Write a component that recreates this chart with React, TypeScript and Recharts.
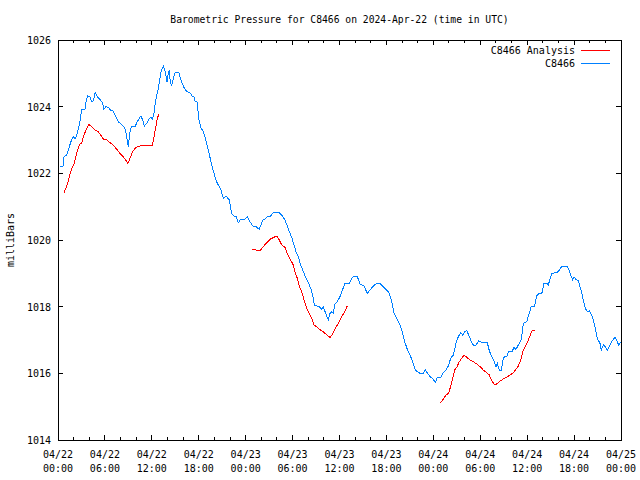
import React from "react";
import { LineChart, Line, XAxis, YAxis, ReferenceArea, Legend } from "recharts";

const WIDTH = 640;
const HEIGHT = 480;
const MARGIN = { top: 40, right: 19, bottom: 0, left: 0 };
const Y_AXIS_W = 58;
const X_AXIS_H = 40;
const PLOT_TOP = MARGIN.top;
const PLOT_BOTTOM = HEIGHT - MARGIN.bottom - X_AXIS_H;
const PLOT_LEFT = MARGIN.left + Y_AXIS_W;
const PLOT_RIGHT = WIDTH - MARGIN.right;

const FONT = "'DejaVu Sans Mono', 'Liberation Mono', monospace";
const RED = "#ff0000";
const BLUE = "#0080ff";

// hours since 04/22 00:00 UTC
const X_TICKS = [0, 2, 4, 6, 8, 10, 12, 14, 16, 18, 20, 22, 24, 26, 28, 30, 32, 34, 36, 38, 40, 42, 44, 46, 48, 50, 52, 54, 56, 58, 60, 62, 64, 66, 68, 70, 72];
const MAJOR_HOURS = [0, 6, 12, 18, 24, 30, 36, 42, 48, 54, 60, 66, 72];
const DATE_LABELS = ["04/22", "04/22", "04/22", "04/22", "04/23", "04/23", "04/23", "04/23", "04/24", "04/24", "04/24", "04/24", "04/25"];
const TIME_LABELS = ["00:00", "06:00", "12:00", "18:00", "00:00", "06:00", "12:00", "18:00", "00:00", "06:00", "12:00", "18:00", "00:00"];
const Y_TICKS = [1014, 1016, 1018, 1020, 1022, 1024, 1026];

// station C8466: [hour, mbar]
const station: [number, number][] = [
  [0.26, 1022.22], [0.64, 1022.22], [0.77, 1022.5], [1.11, 1022.55], [1.45, 1022.8], [1.75, 1023.02],
  [1.96, 1023.1], [2.21, 1023.04], [2.47, 1023.2], [2.72, 1023.45], [2.9, 1023.7], [3.03, 1023.92],
  [3.45, 1023.92], [3.58, 1024.15], [3.8, 1024.32], [4.09, 1024.3], [4.31, 1024.15], [4.51, 1024.18],
  [4.77, 1024.43], [5.03, 1024.3], [5.37, 1024.22], [5.67, 1024.12], [5.88, 1023.92], [6.1, 1024.0],
  [6.48, 1023.98], [6.74, 1023.88], [7.0, 1023.88], [7.25, 1023.78], [7.51, 1023.65], [7.76, 1023.52],
  [8.02, 1023.5], [8.27, 1023.42], [8.53, 1023.38], [8.7, 1023.2], [8.86, 1023.0], [8.99, 1022.8],
  [9.12, 1023.1], [9.3, 1023.35], [9.46, 1023.42], [9.89, 1023.42], [10.14, 1023.55], [10.49, 1023.68],
  [10.61, 1023.72], [10.83, 1023.6], [11.04, 1023.42], [11.34, 1023.5], [11.6, 1023.62], [11.86, 1023.68],
  [12.06, 1023.62], [12.28, 1023.82], [12.44, 1024.1], [12.62, 1024.35], [12.83, 1024.55], [12.95, 1024.72],
  [13.13, 1025.0], [13.3, 1025.12], [13.47, 1025.22], [13.65, 1025.1], [13.81, 1024.92], [13.94, 1024.74],
  [14.11, 1025.02], [14.23, 1025.1], [14.32, 1024.85], [14.49, 1024.62], [14.67, 1024.75], [14.83, 1024.92],
  [15.0, 1025.03], [15.44, 1025.03], [15.6, 1024.9], [15.82, 1024.72], [16.11, 1024.58], [16.46, 1024.45],
  [16.88, 1024.42], [17.14, 1024.32], [17.39, 1024.3], [17.56, 1024.15], [17.81, 1024.14], [17.99, 1023.65],
  [18.25, 1023.38], [18.58, 1023.25], [18.84, 1023.05], [19.22, 1022.7], [19.66, 1022.25], [20.08, 1021.9],
  [20.37, 1021.7], [20.81, 1021.52], [21.14, 1021.25], [21.48, 1021.32], [21.91, 1021.2], [22.21, 1020.8],
  [22.51, 1020.72], [22.76, 1020.72], [23.06, 1020.52], [23.36, 1020.62], [23.91, 1020.62], [24.21, 1020.7],
  [24.55, 1020.55], [24.9, 1020.42], [25.32, 1020.4], [25.74, 1020.32], [26.18, 1020.6], [26.47, 1020.62],
  [26.89, 1020.72], [27.2, 1020.72], [27.53, 1020.82], [28.3, 1020.82], [28.61, 1020.75], [29.03, 1020.6],
  [29.32, 1020.42], [29.58, 1020.25], [29.89, 1020.08], [30.18, 1019.85], [30.44, 1019.65], [30.73, 1019.5],
  [31.04, 1019.25], [31.37, 1019.05], [31.72, 1018.85], [32.01, 1018.72], [32.32, 1018.55], [32.57, 1018.35],
  [32.78, 1018.05], [33.08, 1018.02], [33.42, 1018.0], [33.72, 1017.92], [33.93, 1018.0], [34.15, 1017.85],
  [34.36, 1017.72], [34.57, 1017.6], [34.79, 1017.8], [35.04, 1017.85], [35.21, 1017.8], [35.42, 1018.08],
  [35.72, 1018.15], [36.06, 1018.3], [36.41, 1018.52], [36.7, 1018.7], [37.25, 1018.7], [37.56, 1018.85],
  [37.85, 1018.92], [38.28, 1018.9], [38.62, 1018.68], [39.13, 1018.62], [39.56, 1018.4], [39.9, 1018.5],
  [40.32, 1018.62], [40.76, 1018.7], [41.27, 1018.68], [41.6, 1018.6], [42.04, 1018.5], [42.37, 1018.4],
  [42.68, 1018.15], [42.97, 1017.82], [43.32, 1017.65], [43.74, 1017.45], [44.08, 1017.2], [44.38, 1016.92],
  [44.67, 1016.72], [45.02, 1016.55], [45.36, 1016.35], [45.66, 1016.12], [45.95, 1016.05], [46.3, 1016.0],
  [46.72, 1016.0], [46.97, 1016.1], [47.28, 1016.0], [47.57, 1015.9], [47.92, 1015.85], [48.25, 1015.72],
  [48.51, 1015.88], [48.94, 1015.88], [49.27, 1016.02], [49.62, 1016.1], [49.91, 1016.22], [50.22, 1016.45],
  [50.55, 1016.55], [50.9, 1016.9], [51.19, 1017.1], [51.5, 1017.22], [51.76, 1017.15], [52.05, 1017.25],
  [52.27, 1017.28], [52.52, 1017.15], [52.86, 1016.95], [53.2, 1016.82], [53.46, 1016.85], [53.8, 1016.98],
  [54.19, 1016.92], [54.9, 1016.92], [55.16, 1016.68], [55.46, 1016.5], [55.76, 1016.38], [56.01, 1016.2],
  [56.18, 1016.3], [56.44, 1016.1], [56.69, 1016.1], [56.95, 1016.45], [57.2, 1016.52], [57.38, 1016.5],
  [57.64, 1016.65], [58.06, 1016.65], [58.32, 1016.78], [58.57, 1016.72], [58.87, 1016.85], [59.25, 1017.02],
  [59.51, 1017.5], [59.94, 1017.55], [60.27, 1017.8], [60.53, 1018.02], [60.96, 1018.02], [61.22, 1018.32],
  [61.55, 1018.4], [61.86, 1018.38], [62.15, 1018.7], [62.5, 1018.7], [62.7, 1018.65], [63.14, 1019.0],
  [63.78, 1019.02], [64.11, 1019.1], [64.46, 1019.22], [65.06, 1019.22], [65.39, 1019.08], [65.57, 1018.95],
  [65.82, 1018.8], [65.99, 1018.9], [66.24, 1018.82], [66.54, 1018.78], [66.76, 1018.6], [66.97, 1018.42],
  [67.18, 1018.2], [67.43, 1017.95], [67.69, 1017.85], [67.95, 1017.88], [68.25, 1017.75], [68.46, 1017.6],
  [68.71, 1017.35], [68.97, 1017.05], [69.31, 1016.9], [69.48, 1016.7], [69.74, 1016.85], [70.0, 1016.8],
  [70.25, 1016.68], [70.59, 1016.85], [70.89, 1016.98], [71.23, 1017.08], [71.45, 1016.98], [71.7, 1016.85],
  [71.96, 1016.95],
];

// C8466 Analysis, three separate runs
const analysis1: [number, number][] = [
  [0.77, 1021.42], [1.11, 1021.6], [1.45, 1021.9], [1.75, 1022.15], [2.05, 1022.28], [2.39, 1022.6],
  [2.72, 1022.85], [3.03, 1022.92], [3.33, 1023.15], [3.67, 1023.35], [3.93, 1023.47], [4.31, 1023.4],
  [4.73, 1023.3], [5.15, 1023.25], [5.46, 1023.15], [5.79, 1023.03], [6.23, 1023.0], [6.65, 1022.92],
  [7.07, 1022.85], [7.51, 1022.72], [7.93, 1022.6], [8.35, 1022.5], [8.7, 1022.38], [8.95, 1022.3],
  [9.21, 1022.45], [9.55, 1022.65], [9.98, 1022.78], [10.49, 1022.82], [11.34, 1022.85], [12.06, 1022.85],
  [12.28, 1023.1], [12.53, 1023.42], [12.7, 1023.65], [12.92, 1023.78],
];
const analysis2: [number, number][] = [
  [24.85, 1019.72], [25.32, 1019.7], [25.83, 1019.67], [26.25, 1019.8], [26.69, 1019.92], [27.11, 1020.02],
  [27.62, 1020.08], [27.97, 1020.12], [28.3, 1020.0], [28.61, 1019.85], [29.03, 1019.78], [29.32, 1019.6],
  [29.67, 1019.42], [30.01, 1019.3], [30.31, 1019.05], [30.6, 1018.85], [30.86, 1018.62], [31.17, 1018.45],
  [31.46, 1018.2], [31.81, 1017.95], [32.14, 1017.8], [32.44, 1017.65], [32.74, 1017.45], [33.08, 1017.4],
  [33.42, 1017.32], [33.89, 1017.25], [34.4, 1017.15], [34.79, 1017.08], [35.04, 1017.15], [35.42, 1017.32],
  [36.06, 1017.6], [36.58, 1017.82], [37.0, 1018.02],
];
const analysis3: [number, number][] = [
  [48.94, 1015.12], [49.27, 1015.22], [49.62, 1015.35], [49.96, 1015.4], [50.22, 1015.62], [50.48, 1015.85],
  [50.73, 1016.1], [50.99, 1016.18], [51.32, 1016.35], [51.63, 1016.45], [51.92, 1016.55], [52.27, 1016.48],
  [52.69, 1016.4], [53.11, 1016.35], [53.55, 1016.28], [53.97, 1016.2], [54.39, 1016.1], [54.82, 1016.02],
  [55.16, 1015.95], [55.46, 1015.78], [55.76, 1015.68], [56.1, 1015.68], [56.44, 1015.75], [56.87, 1015.82],
  [57.38, 1015.88], [57.8, 1015.95], [58.23, 1016.02], [58.57, 1016.12], [58.87, 1016.22], [59.17, 1016.4],
  [59.51, 1016.7], [59.85, 1016.85], [60.15, 1017.0], [60.45, 1017.18], [60.71, 1017.3], [61.0, 1017.3],
];

const toRows = (pts: [number, number][]) => pts.map(([t, p]) => ({ t, p }));
const stationData = toRows(station);
// null rows break the analysis line between runs
const analysisData = [
  ...toRows(analysis1),
  { t: 18, p: null },
  ...toRows(analysis2),
  { t: 42, p: null },
  ...toRows(analysis3),
];

const textStyle = { fontFamily: FONT, fontSize: 10, fill: "#000" };

function XTick(props: any) {
  const { x, payload } = props;
  const v = payload.value;
  const i = MAJOR_HOURS.indexOf(v);
  const len = i >= 0 ? 5 : 3;
  return (
    <g>
      <line x1={x} x2={x} y1={PLOT_BOTTOM} y2={PLOT_BOTTOM - len} stroke="#000" shapeRendering="crispEdges" />
      <line x1={x} x2={x} y1={PLOT_TOP} y2={PLOT_TOP + len} stroke="#000" shapeRendering="crispEdges" />
      {i >= 0 && (
        <text x={x} textAnchor="middle" {...textStyle}>
          <tspan x={x} y={PLOT_BOTTOM + 18}>{DATE_LABELS[i]}</tspan>
          <tspan x={x} y={PLOT_BOTTOM + 32}>{TIME_LABELS[i]}</tspan>
        </text>
      )}
    </g>
  );
}

function YTick(props: any) {
  const { y, payload } = props;
  return (
    <g>
      <line x1={PLOT_LEFT} x2={PLOT_LEFT + 5} y1={y} y2={y} stroke="#000" shapeRendering="crispEdges" />
      <line x1={PLOT_RIGHT} x2={PLOT_RIGHT - 5} y1={y} y2={y} stroke="#000" shapeRendering="crispEdges" />
      <text x={PLOT_LEFT - 7} y={y + 4} textAnchor="end" {...textStyle}>
        {payload.value}
      </text>
    </g>
  );
}

const LEGEND_ITEMS = [
  { name: "C8466 Analysis", color: RED },
  { name: "C8466", color: BLUE },
];

function LegendBox() {
  return (
    <svg width={140} height={28} style={{ display: "block" }}>
      {LEGEND_ITEMS.map((item, k) => (
        <g key={item.name}>
          <text x={95} y={10 + k * 13} textAnchor="end" {...textStyle}>
            {item.name}
          </text>
          <line x1={101} x2={130} y1={6.5 + k * 13} y2={6.5 + k * 13} stroke={item.color} shapeRendering="crispEdges" />
        </g>
      ))}
    </svg>
  );
}

export default function App() {
  return (
    <div style={{ position: "absolute", left: 0, top: 0, width: WIDTH, height: HEIGHT, background: "#fff" }}>
      <LineChart width={WIDTH} height={HEIGHT} margin={MARGIN}>
        <XAxis
          dataKey="t"
          type="number"
          domain={[0, 72]}
          ticks={X_TICKS}
          interval={0}
          height={X_AXIS_H}
          axisLine={false}
          tickLine={false}
          tick={<XTick />}
          allowDataOverflow
        />
        <YAxis
          type="number"
          domain={[1014, 1026]}
          ticks={Y_TICKS}
          interval={0}
          width={Y_AXIS_W}
          axisLine={false}
          tickLine={false}
          tick={<YTick />}
          allowDataOverflow
        />
        <ReferenceArea x1={0} x2={72} y1={1014} y2={1026} fill="none" fillOpacity={0} stroke="#000" strokeOpacity={1} shapeRendering="crispEdges" />
        <Line
          data={analysisData}
          dataKey="p"
          name="C8466 Analysis"
          type="linear"
          stroke={RED}
          strokeWidth={1}
          shapeRendering="crispEdges"
          dot={false}
          activeDot={false}
          connectNulls={false}
          isAnimationActive={false}
        />
        <Line
          data={stationData}
          dataKey="p"
          name="C8466"
          type="linear"
          stroke={BLUE}
          strokeWidth={1}
          shapeRendering="crispEdges"
          dot={false}
          activeDot={false}
          isAnimationActive={false}
        />
        <Legend
          layout="horizontal"
          verticalAlign="middle"
          align="center"
          content={() => <LegendBox />}
          wrapperStyle={{ position: "absolute", left: 480, top: 43.5, width: 140, height: 28 }}
        />
      </LineChart>
      <svg width={WIDTH} height={HEIGHT} style={{ position: "absolute", left: 0, top: 0, pointerEvents: "none" }}>
        <text x={(PLOT_LEFT + PLOT_RIGHT) / 2} y={23} textAnchor="middle" {...textStyle} fontSize={9.7}>
          Barometric Pressure for C8466 on 2024-Apr-22 (time in UTC)
        </text>
        <text x={14} y={240} textAnchor="middle" transform="rotate(-90 14 240)" {...textStyle}>
          milliBars
        </text>
      </svg>
    </div>
  );
}
